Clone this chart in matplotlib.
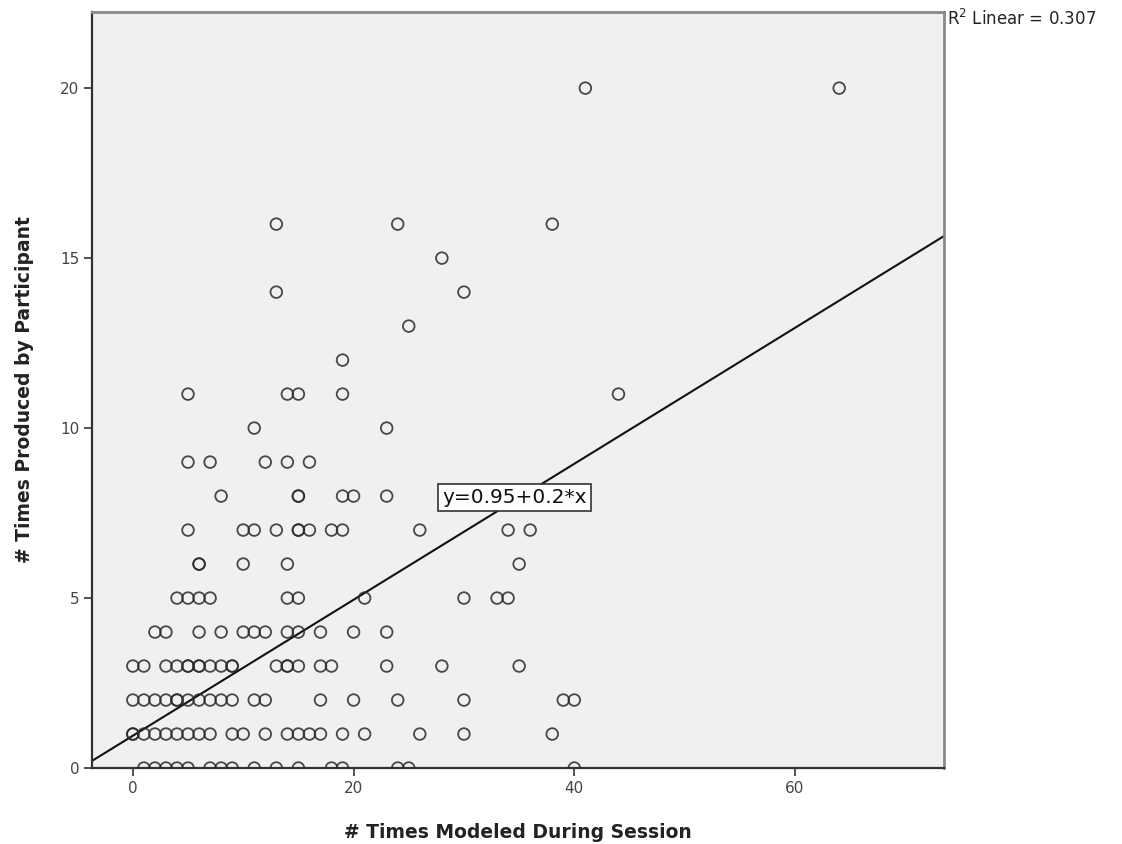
import matplotlib
matplotlib.use("Agg")
import matplotlib.pyplot as plt
import numpy as np

# points, grouped by y value (x = times modeled)
rows = {
    20: [41, 64],
    16: [13, 24, 38],
    15: [28],
    14: [13, 30],
    13: [25],
    12: [19],
    11: [5, 14, 15, 19, 44],
    10: [11, 23],
    9: [5, 7, 12, 14, 16],
    8: [8, 15, 15, 19, 20, 23],
    7: [5, 10, 11, 13, 15, 15, 16, 18, 19, 26, 34, 36],
    6: [6, 6, 10, 14, 35],
    5: [4, 5, 6, 7, 14, 15, 21, 30, 33, 34],
    4: [2, 3, 6, 8, 10, 11, 12, 14, 15, 17, 20, 23],
    3: [0, 1, 3, 4, 5, 5, 6, 6, 7, 8, 9, 9, 13, 14, 14, 15, 17, 18, 23, 28, 35],
    2: [0, 1, 2, 3, 4, 4, 5, 6, 7, 8, 9, 11, 12, 17, 20, 24, 30, 39, 40],
    1: [0, 0, 1, 2, 3, 4, 5, 6, 7, 9, 10, 12, 14, 15, 16, 17, 19, 21, 26, 30, 38],
    0: [1, 2, 3, 4, 5, 7, 8, 9, 11, 13, 15, 18, 19, 24, 25, 40],
}
modeled = [x for y, xs in rows.items() for x in xs]
produced = [y for y, xs in rows.items() for x in xs]

INTERCEPT = 0.95
SLOPE = 0.2
R2 = 0.307

fig = plt.figure(figsize=(11.22, 8.44), dpi=100)
ax = fig.add_axes([0.082, 0.090, 0.7594, 0.8958])
ax.set_facecolor("#f0f0f0")

ax.scatter(modeled, produced, s=70, facecolors="none", edgecolors="#2a2a2a",
           linewidths=1.3, alpha=0.85, zorder=3)

xlim = (-3.7, 73.5)
xs = np.array(xlim)
ax.plot(xs, INTERCEPT + SLOPE * xs, color="#111111", lw=1.5, zorder=2)
ax.set_xlim(*xlim)
ax.set_ylim(0, 22.24)

ax.text(34.6, 7.97, f"y={INTERCEPT}+{SLOPE}*x", ha="center", va="center",
        fontsize=14.5, color="#111111", zorder=5,
        bbox=dict(boxstyle="square,pad=0.2", fc="white", ec="#333333", lw=1.2))

ax.set_xticks([0, 20, 40, 60])
ax.set_yticks([0, 5, 10, 15, 20])
ax.tick_params(axis="both", direction="out", length=6, width=1.2, pad=3,
               colors="#333333", labelsize=11, labelcolor="#444444")
for side in ("left", "bottom"):
    ax.spines[side].set_color("#333333")
    ax.spines[side].set_linewidth(1.6)
for side in ("top", "right"):
    ax.spines[side].set_color("#8a8a8a")
    ax.spines[side].set_linewidth(2.0)

ax.set_xlabel("# Times Modeled During Session", fontsize=13.5, fontweight="bold",
              color="#222222", labelpad=20)
ax.set_ylabel("# Times Produced by Participant", fontsize=13.5, fontweight="bold",
              color="#222222", labelpad=19)

fig.text(0.844, 0.978, f"R$^2$ Linear = {R2}", fontsize=12, color="#222222",
         ha="left", va="center")

fig.savefig("out.png", dpi=100)
